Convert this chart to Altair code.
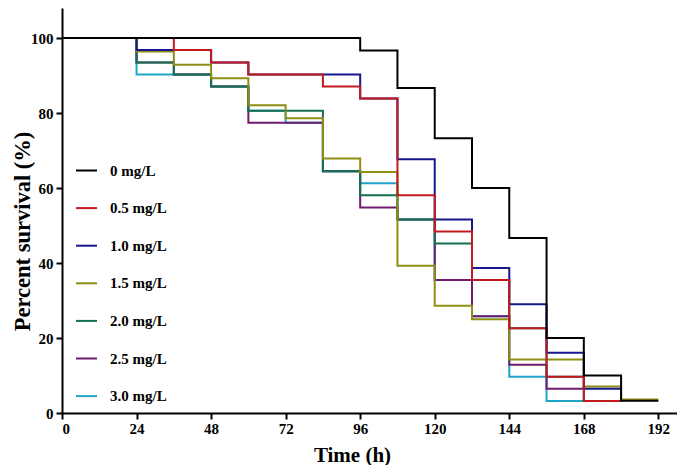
import altair as alt
import pandas as pd

# Series (legend order) and colours
series_names = ["0 mg/L", "0.5 mg/L", "1.0 mg/L", "1.5 mg/L", "2.0 mg/L", "2.5 mg/L", "3.0 mg/L"]
series_colors = ["#000000", "#c41a1f", "#16168e", "#8e8e12", "#15704f", "#6e1a6e", "#1fa5c6"]

# Kaplan-Meier step data: time (h) and percent survival
t_0 = [0, 96, 108, 120, 132, 144, 156, 168, 180, 192]
s_0 = [100, 96.7, 86.7, 73.3, 60.0, 46.7, 20.0, 10.0, 3.3, 3.3]

t_05 = [0, 36, 48, 60, 84, 96, 108, 120, 132, 144, 156, 168, 180]
s_05 = [100, 96.8, 93.5, 90.3, 87.1, 83.9, 58.1, 48.4, 35.5, 22.6, 9.7, 3.2, 3.2]

t_10 = [0, 24, 48, 60, 96, 108, 120, 132, 144, 156, 168, 180]
s_10 = [100, 96.8, 93.5, 90.3, 83.9, 67.7, 51.6, 38.7, 29.0, 16.1, 6.5, 6.5]

t_15 = [0, 24, 36, 48, 60, 72, 84, 96, 108, 120, 132, 144, 168, 180, 192]
s_15 = [100, 96.4, 92.9, 89.3, 82.1, 78.6, 67.9, 64.3, 39.3, 28.6, 25.0, 14.3, 7.1, 3.6, 3.6]

t_20 = [0, 24, 36, 48, 60, 84, 96, 108, 120, 132, 144, 156, 168, 180]
s_20 = [100, 93.5, 90.3, 87.1, 80.6, 64.5, 58.1, 51.6, 45.2, 35.5, 22.6, 9.7, 3.2, 3.2]

t_25 = [0, 24, 36, 48, 60, 84, 96, 108, 120, 132, 144, 156, 168]
s_25 = [100, 93.5, 90.3, 87.1, 77.4, 64.5, 54.8, 51.6, 35.5, 25.8, 12.9, 6.5, 6.5]

t_30 = [0, 24, 48, 60, 72, 84, 96, 108, 120, 132, 144, 156, 168]
s_30 = [100, 90.3, 87.1, 80.6, 77.4, 64.5, 61.3, 51.6, 35.5, 25.8, 9.7, 3.2, 3.2]

x_ticks = [0, 24, 48, 72, 96, 120, 144, 168, 192]
y_ticks = [0, 20, 40, 60, 80, 100]

times = [t_0, t_05, t_10, t_15, t_20, t_25, t_30]
survs = [s_0, s_05, s_10, s_15, s_20, s_25, s_30]

rows = []
for name, ts, ss in zip(series_names, times, survs):
    for t, s in zip(ts, ss):
        rows.append({"series": name, "time": t, "survival": s})
df = pd.DataFrame(rows)

FONT = "Liberation Serif"

color_scale = alt.Scale(domain=series_names, range=series_colors)

base = alt.Chart(df).mark_line(interpolate="step-after", strokeWidth=2).encode(
    x=alt.X(
        "time:Q",
        scale=alt.Scale(domain=[0, 198], nice=False, zero=True),
        axis=alt.Axis(values=x_ticks, title="Time (h)", titleX=290, titleY=42,
                      titleBaseline="middle", labelPadding=2),
    ),
    y=alt.Y(
        "survival:Q",
        scale=alt.Scale(domain=[0, 108], nice=False),
        axis=alt.Axis(values=y_ticks, title="Percent survival (%)", titleX=-40, titleY=223,
                      titleBaseline="middle", titleAngle=-90, titleFontSize=22.5, labelPadding=3),
    ),
    color=alt.Color(
        "series:N",
        scale=color_scale,
        sort=series_names,
        legend=alt.Legend(
            title=None, orient="none", legendX=13, legendY=151,
            symbolType="stroke", symbolSize=441, symbolStrokeWidth=2,
            labelOffset=12, rowPadding=17.6, padding=0,
            labelFont=FONT, labelFontSize=15, labelFontWeight="bold", labelColor="#000000",
        ),
    ),
)

layers = [base.transform_filter(alt.datum.series == name) for name in reversed(series_names)]

chart = alt.layer(*layers).properties(
    width=615,
    height=405,
    autosize=alt.AutoSizeParams(type="none"),
    padding={"left": 54, "top": 0, "right": 0, "bottom": 52},
).configure_view(stroke=None).configure_axis(
    grid=False,
    domainColor="#000000", domainWidth=2,
    tickColor="#000000", tickWidth=2, tickSize=6,
    labelFont=FONT, labelFontSize=15, labelFontWeight="bold", labelColor="#000000",
    titleFont=FONT, titleFontSize=21, titleFontWeight="bold", titleColor="#000000",
)

chart.save("out.html", embed_options={"renderer": "svg", "actions": False})
